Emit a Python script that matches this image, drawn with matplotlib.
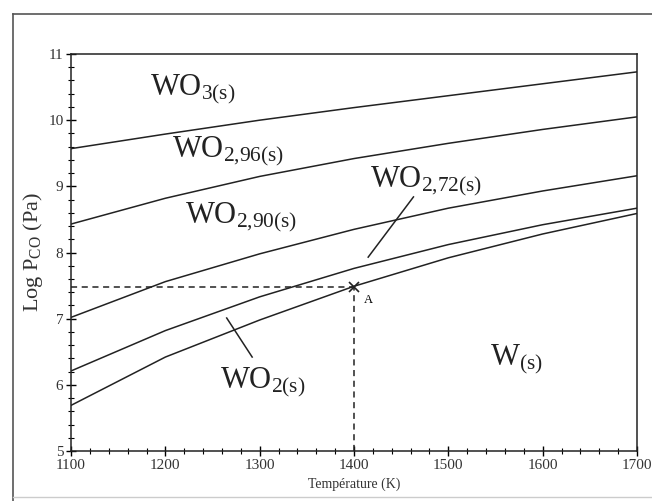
import matplotlib
matplotlib.use("Agg")
import matplotlib.pyplot as plt
from matplotlib.lines import Line2D
from matplotlib.ticker import MultipleLocator

plt.rcParams['font.family'] = ['Liberation Serif', 'DejaVu Serif']
plt.rcParams['mathtext.fontset'] = 'custom'
plt.rcParams['mathtext.rm'] = 'Liberation Serif'
plt.rcParams['mathtext.it'] = 'Liberation Serif'

# temperature (K) and log P_CO (Pa) of each phase boundary
temps = [1100, 1200, 1300, 1400, 1500, 1600, 1700]
wo3_wo296 = [9.57, 9.79, 10.00, 10.19, 10.37, 10.55, 10.73]
wo296_wo290 = [8.43, 8.82, 9.15, 9.42, 9.65, 9.86, 10.05]
wo290_wo272 = [7.02, 7.56, 7.98, 8.35, 8.67, 8.93, 9.16]
wo272_wo2 = [6.21, 6.82, 7.33, 7.76, 8.12, 8.42, 8.67]
wo2_w = [5.69, 6.42, 6.98, 7.49, 7.92, 8.28, 8.59]

# point A
point_t = 1400
point_p = 7.48

# phase labels: text, T, logP (baseline)
phase_labels = [
    (r'WO$_{\mathrm{3(s)}}$', 1184, 10.38),
    (r'WO$_{\mathrm{2{,}96(s)}}$', 1207, 9.44),
    (r'WO$_{\mathrm{2{,}90(s)}}$', 1221, 8.45),
    (r'WO$_{\mathrm{2{,}72(s)}}$', 1417, 8.99),
    (r'WO$_{\mathrm{2(s)}}$', 1258, 5.95),
    (r'W$_{\mathrm{(s)}}$', 1544, 6.30),
]
# leader lines for the narrow fields
leaders = [
    ([1463, 1415], [8.84, 7.93]),
    ([1265, 1292], [7.01, 6.42]),
]

fig = plt.figure(figsize=(6.52, 5.01), dpi=100)
ax = fig.add_axes([0.109, 0.0998, 0.868, 0.7924])

for curve in [wo3_wo296, wo296_wo290, wo290_wo272, wo272_wo2, wo2_w]:
    ax.plot(temps, curve, color='#222222', lw=1.1)

ax.plot([1100, point_t], [point_p, point_p], color='#222222', lw=1.1, ls=(0, (4, 3)))
ax.plot([point_t, point_t], [5, point_p], color='#222222', lw=1.1, ls=(0, (4, 3)))
ax.plot([point_t], [point_p], marker='x', color='#222222', ms=7, mew=1.2)
ax.text(point_t + 10, point_p - 0.24, 'A', fontsize=9, ha='left', va='baseline')

for txt, t, p in phase_labels:
    ax.text(t, p, txt, fontsize=22, ha='left', va='baseline', color='#222222')
for xs, ys in leaders:
    ax.plot(xs, ys, color='#222222', lw=1.1)

ax.set_xlim(1100, 1700)
ax.set_ylim(5, 11)
ax.xaxis.set_major_locator(MultipleLocator(100))
ax.xaxis.set_minor_locator(MultipleLocator(20))
ax.yaxis.set_major_locator(MultipleLocator(1))
ax.yaxis.set_minor_locator(MultipleLocator(0.2))
ax.tick_params(which='major', direction='inout', length=7, width=1.0, labelsize=11, pad=2,
               labelcolor='#333333')
ax.tick_params(which='minor', direction='inout', length=4, width=0.8)
for s in ax.spines.values():
    s.set_linewidth(1.1)
    s.set_color('#222222')

ax.set_xlabel('Température (K)', fontsize=10, labelpad=4, color='#333333')
ax.set_ylabel(r'Log P$_{\mathrm{CO}}$ (Pa)', fontsize=16, labelpad=2, color='#333333')

# scanned frame around the figure
fig.add_artist(Line2D([0.02, 0.02], [0.0, 0.972], color='#555555', lw=1.2))
fig.add_artist(Line2D([0.02, 1.0], [0.972, 0.972], color='#555555', lw=1.2))
fig.add_artist(Line2D([0.02, 1.0], [0.008, 0.008], color='#cccccc', lw=1.0))

fig.savefig('out.png', dpi=100)
